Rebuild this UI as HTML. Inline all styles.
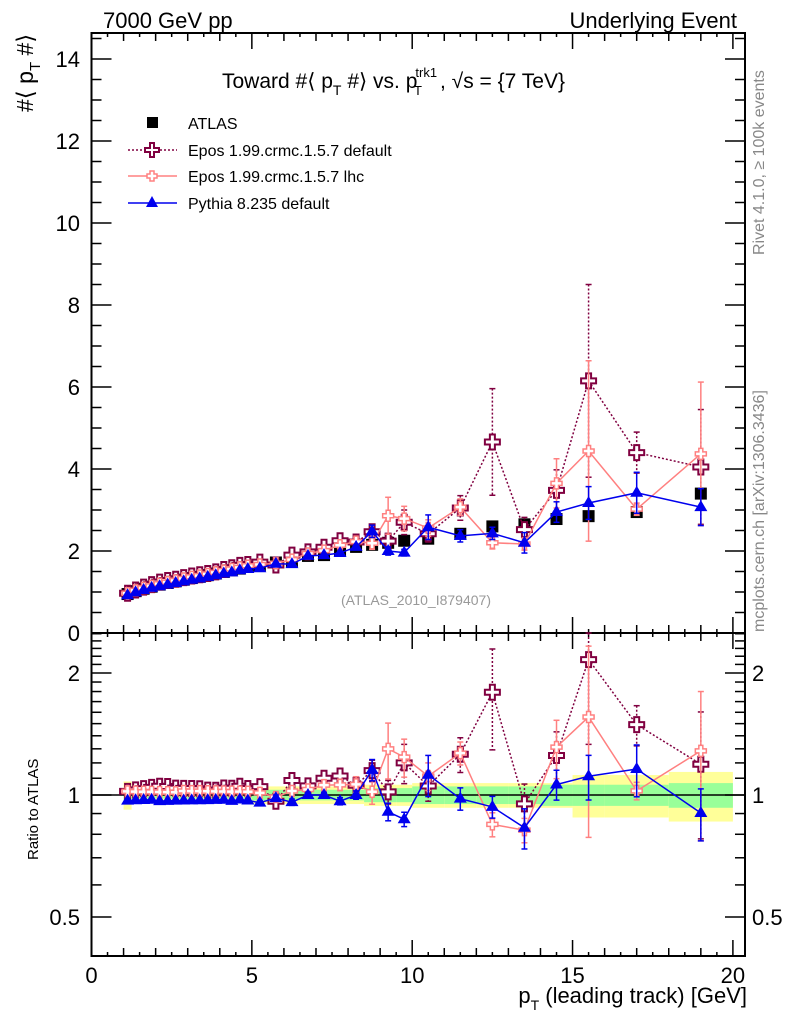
<!DOCTYPE html>
<html><head><meta charset="utf-8"><style>
html,body{margin:0;padding:0;background:#fff;}
svg{display:block;font-family:"Liberation Sans",sans-serif;}
</style></head><body>
<svg id="chart" width="786" height="1024" viewBox="0 0 786 1024" xmlns="http://www.w3.org/2000/svg">
<g id="bands"></g>
<g id="grid"></g>
<g id="series"></g>
<text x="103" y="28" font-size="22">7000 GeV pp</text>
<text x="737" y="28" font-size="22" text-anchor="end">Underlying Event</text>
<text x="222" y="88" font-size="21">Toward #⟨ p<tspan font-size="14" dy="7">T</tspan><tspan dy="-7"> #⟩ vs. p</tspan><tspan font-size="13" dx="-2" dy="-11">trk1</tspan><tspan font-size="13" dx="-23" dy="18">T</tspan><tspan dx="18" dy="-7">, √s = {7 TeV}</tspan></text>
<text transform="translate(33,112) rotate(-90)" font-size="23">#⟨ p<tspan font-size="15" dy="7">T</tspan><tspan dy="-7"> #⟩</tspan></text>
<text transform="translate(38,860) rotate(-90)" font-size="15">Ratio to ATLAS</text>
<text x="747" y="1003" font-size="22" text-anchor="end">p<tspan font-size="14" dy="7">T</tspan><tspan dy="-7"> (leading track) [GeV]</tspan></text>
<text transform="translate(764,255) rotate(-90)" font-size="16" fill="#888">Rivet 4.1.0, ≥ 100k events</text>
<text transform="translate(764,632) rotate(-90)" font-size="16" fill="#888">mcplots.cern.ch [arXiv:1306.3436]</text>
<text x="416" y="605" font-size="14" fill="#999" text-anchor="middle">(ATLAS_2010_I879407)</text>
<g id="legend">
<rect x="147" y="117" width="11" height="11" fill="#000"/>
<text x="188" y="129" font-size="16">ATLAS</text>
<line x1="128" y1="150" x2="177" y2="150" stroke="#800040" stroke-width="1.5" stroke-dasharray="2,2"/>
<path d="M150,143h4v5h5v4h-5v5h-4v-5h-5v-4h5z" fill="#fff" stroke="#800040" stroke-width="2"/>
<text x="188" y="156" font-size="16">Epos 1.99.crmc.1.5.7 default</text>
<line x1="128" y1="176" x2="177" y2="176" stroke="#ff8080" stroke-width="1.5"/>
<path d="M150,171h4v3h3v4h-3v3h-4v-3h-3v-4h3z" fill="#fff" stroke="#ff8080" stroke-width="1.5"/>
<text x="188" y="182" font-size="16">Epos 1.99.crmc.1.5.7 lhc</text>
<line x1="128" y1="203" x2="177" y2="203" stroke="#0000ee" stroke-width="1.5"/>
<path d="M152,196l6,11h-12z" fill="#0000ee"/>
<text x="188" y="209" font-size="16">Pythia 8.235 default</text>
</g>
</svg>
<script>
const xs=[1.125,1.375,1.625,1.875,2.125,2.375,2.625,2.875,3.125,3.375,3.625,3.875,4.125,4.375,4.625,4.875,5.25,5.75,6.25,6.75,7.25,7.75,8.25,8.75,9.25,9.75,10.5,11.5,12.5,13.5,14.5,15.5,17,19];
const binLo=[1.0,1.25,1.5,1.75,2.0,2.25,2.5,2.75,3.0,3.25,3.5,3.75,4.0,4.25,4.5,4.75,5.0,5.5,6.0,6.5,7.0,7.5,8.0,8.5,9.0,9.5,10,11,12,13,14,15,16,18];
const binHi=[1.25,1.5,1.75,2.0,2.25,2.5,2.75,3.0,3.25,3.5,3.75,4.0,4.25,4.5,4.75,5.0,5.5,6.0,6.5,7.0,7.5,8.0,8.5,9.0,9.5,10,11,12,13,14,15,16,18,20];
const atlas=[0.95,1.02,1.08,1.13,1.18,1.22,1.26,1.30,1.34,1.37,1.41,1.45,1.49,1.53,1.57,1.61,1.65,1.72,1.75,1.88,1.90,2.02,2.10,2.15,2.20,2.25,2.30,2.42,2.60,2.65,2.78,2.85,2.95,3.40];
const statRel=[0.03,0.02,0.02,0.02,0.02,0.02,0.02,0.02,0.02,0.02,0.02,0.02,0.02,0.02,0.02,0.02,0.03,0.03,0.03,0.03,0.03,0.03,0.03,0.04,0.04,0.04,0.05,0.05,0.05,0.05,0.06,0.06,0.06,0.07];
const totRel=[0.08,0.04,0.04,0.04,0.04,0.04,0.04,0.04,0.04,0.04,0.04,0.04,0.04,0.04,0.04,0.04,0.05,0.05,0.05,0.05,0.05,0.05,0.05,0.06,0.06,0.06,0.07,0.07,0.07,0.07,0.07,0.12,0.12,0.14];
const eposDef=[0.97,1.05,1.12,1.18,1.24,1.28,1.31,1.35,1.39,1.42,1.45,1.49,1.55,1.59,1.65,1.67,1.73,1.66,1.90,1.98,2.09,2.25,2.22,2.47,2.24,2.70,2.42,3.05,4.66,2.52,3.48,6.15,4.40,4.05];
const eposDefErr=[0.02,0.02,0.02,0.02,0.02,0.02,0.02,0.02,0.03,0.03,0.03,0.03,0.03,0.03,0.04,0.04,0.05,0.05,0.06,0.06,0.07,0.08,0.1,0.15,0.15,0.3,0.2,0.3,1.3,0.3,0.5,2.35,0.5,1.4];
const eposLhc=[0.97,1.04,1.10,1.15,1.20,1.24,1.28,1.33,1.37,1.40,1.44,1.48,1.52,1.56,1.60,1.64,1.67,1.70,1.79,1.94,2.01,2.14,2.23,2.19,2.86,2.79,2.56,3.07,2.20,2.17,3.65,4.44,3.02,4.37];
const eposLhcErr=[0.02,0.02,0.02,0.02,0.02,0.02,0.02,0.02,0.03,0.03,0.03,0.03,0.03,0.03,0.04,0.04,0.05,0.05,0.05,0.06,0.06,0.07,0.1,0.15,0.45,0.3,0.2,0.2,0.15,0.15,0.6,2.2,0.15,1.75];
const pythia=[0.92,0.99,1.05,1.10,1.14,1.18,1.22,1.26,1.30,1.33,1.37,1.41,1.45,1.48,1.53,1.56,1.58,1.69,1.68,1.88,1.90,1.95,2.10,2.48,2.00,1.96,2.58,2.37,2.43,2.20,2.95,3.17,3.42,3.07];
const pythiaErr=[0.01,0.01,0.01,0.01,0.01,0.01,0.01,0.01,0.01,0.01,0.01,0.01,0.01,0.01,0.02,0.02,0.02,0.03,0.03,0.03,0.03,0.04,0.05,0.15,0.1,0.08,0.3,0.15,0.15,0.25,0.25,0.4,0.5,0.45];
const xTicks=[0,5,10,15,20];
const yTicks=[0,2,4,6,8,10,12,14];
const rTicks=[0.5,1,2];

const NS="http://www.w3.org/2000/svg";
const L=91.5,R=745,T=33,M=633,B=956;
const X=v=>L+v*32.07;
const Y=v=>M-v*41;
const RY=r=>795-122*Math.log2(r);
function el(tag,attrs,parent){const e=document.createElementNS(NS,tag);for(const k in attrs)e.setAttribute(k,attrs[k]);parent.appendChild(e);return e;}
const bands=document.getElementById('bands'),grid=document.getElementById('grid'),ser=document.getElementById('series');

for(let i=0;i<xs.length;i++){
  const y1=el('rect',{x:X(binLo[i]),y:RY(1+totRel[i]),width:X(binHi[i])-X(binLo[i]),height:RY(1-totRel[i])-RY(1+totRel[i]),fill:'#ffff99'},bands);
  
  
  const g1=el('rect',{x:X(binLo[i]),y:RY(1+statRel[i]),width:X(binHi[i])-X(binLo[i]),height:RY(1-statRel[i])-RY(1+statRel[i]),fill:'#99ff99'},bands);
  
  
}
const f1=el('rect',{x:L,y:T,width:R-L,height:M-T,fill:'none',stroke:'#000','stroke-width':2},grid);


const f2=el('rect',{x:L,y:M,width:R-L,height:B-M,fill:'none',stroke:'#000','stroke-width':2},grid);


el('line',{x1:L,x2:R,y1:RY(1),y2:RY(1),stroke:'#000','stroke-width':1.5},grid);
for(let v=0;v<=20.01;v+=0.5){
  const maj=Math.abs(v%5)<1e-6, mid=Math.abs(v%1)<1e-6;
  const len=maj?16:(mid?8:4);
  for(const [yb,dir] of [[T,1],[M,-1],[M,1],[B,-1]]) el('line',{x1:X(v),x2:X(v),y1:yb,y2:yb+dir*len,stroke:'#000','stroke-width':1.5},grid);
}
xTicks.forEach(v=>{const t=el('text',{x:X(v),y:983,'font-size':22,'text-anchor':'middle'},grid);t.textContent=v;

});
for(let v=0;v<=14.6;v+=0.5){
  const maj=Math.abs(v%2)<1e-6;const len=maj?20:10;
  el('line',{x1:L,x2:L+len,y1:Y(v),y2:Y(v),stroke:'#000','stroke-width':1.5},grid);
  el('line',{x1:R,x2:R-len,y1:Y(v),y2:Y(v),stroke:'#000','stroke-width':1.5},grid);
}
yTicks.forEach(v=>{const t=el('text',{x:80,y:Y(v)+8,'font-size':22,'text-anchor':'end'},grid);t.textContent=v;

});
[0.5,0.6,0.7,0.8,0.9,1,1.1,1.2,1.3,1.4,1.5,1.6,1.7,1.8,1.9,2,2.1,2.2,2.3,2.4,2.5].forEach(r=>{
  const maj=rTicks.includes(r);const len=maj?20:10;const y=RY(r);if(y<M||y>B)return;
  el('line',{x1:L,x2:L+len,y1:y,y2:y,stroke:'#000','stroke-width':1.5},grid);
  el('line',{x1:R,x2:R-len,y1:y,y2:y,stroke:'#000','stroke-width':1.5},grid);
});
rTicks.forEach(r=>{
  const t=el('text',{x:80,y:RY(r)+8,'font-size':22,'text-anchor':'end'},grid);t.textContent=r;
  
  
  const t2=el('text',{x:752,y:RY(r)+8,'font-size':22},grid);t2.textContent=r;
  
  
});

function cross(cx,cy,a,h,color,sw,g){return el('path',{d:`M${cx-a},${cy-h}h${2*a}v${h-a}h${h-a}v${2*a}h${-(h-a)}v${h-a}h${-2*a}v${-(h-a)}h${-(h-a)}v${-2*a}h${h-a}z`,fill:'#fff',stroke:color,'stroke-width':sw},g);}
function drawSeries(vals,errs,color,dash,kind,name){
  const g=el('g',{},ser);
  
  
  const cl=(y,a,b)=>Math.max(a,Math.min(b,y));
  for(const panel of ['main','ratio']){
    const fy=i=>panel==='main'?Y(vals[i]):RY(vals[i]/atlas[i]);
    const fe=(i,s)=>panel==='main'?cl(Y(vals[i]+s*errs[i]),T,M):cl(RY(Math.max(0.05,(vals[i]+s*errs[i])/atlas[i])),M,B);
    const pts=xs.map((x,i)=>X(x)+','+fy(i)).join(' ');
    el('polyline',{points:pts,fill:'none',stroke:color,'stroke-width':1.5,'stroke-dasharray':dash||'none'},g);
    xs.forEach((x,i)=>{
      const y1=fe(i,1),y2=fe(i,-1);
      if(y2-y1>4){el('line',{x1:X(x),x2:X(x),y1:y1,y2:y2,stroke:color,'stroke-width':1.5,'stroke-dasharray':dash||'none'},g);
        el('line',{x1:X(x)-3,x2:X(x)+3,y1:y1,y2:y1,stroke:color,'stroke-width':1.5},g);
        el('line',{x1:X(x)-3,x2:X(x)+3,y1:y2,y2:y2,stroke:color,'stroke-width':1.5},g);}
      const cx=X(x),cy=fy(i);
      let m;
      if(kind==='big')m=cross(cx,cy,2.5,7.5,color,2,g);
      else if(kind==='small')m=cross(cx,cy,2,5.5,color,1.5,g);
      else m=el('path',{d:`M${cx},${cy-7}l6.5,11h-13z`,fill:color},g);
      
      
    });
  }
}
const ga=el('g',{},ser);


xs.forEach((x,i)=>{const r=el('rect',{x:X(x)-6,y:Y(atlas[i])-6,width:12,height:12,fill:'#000'},ga);

});
drawSeries(eposDef,eposDefErr,'#800040','2,2','big','epos-default-series');
drawSeries(eposLhc,eposLhcErr,'#ff8080',null,'small','epos-lhc-series');
drawSeries(pythia,pythiaErr,'#0000ee',null,'tri','pythia-series');
</script>
</body></html>
